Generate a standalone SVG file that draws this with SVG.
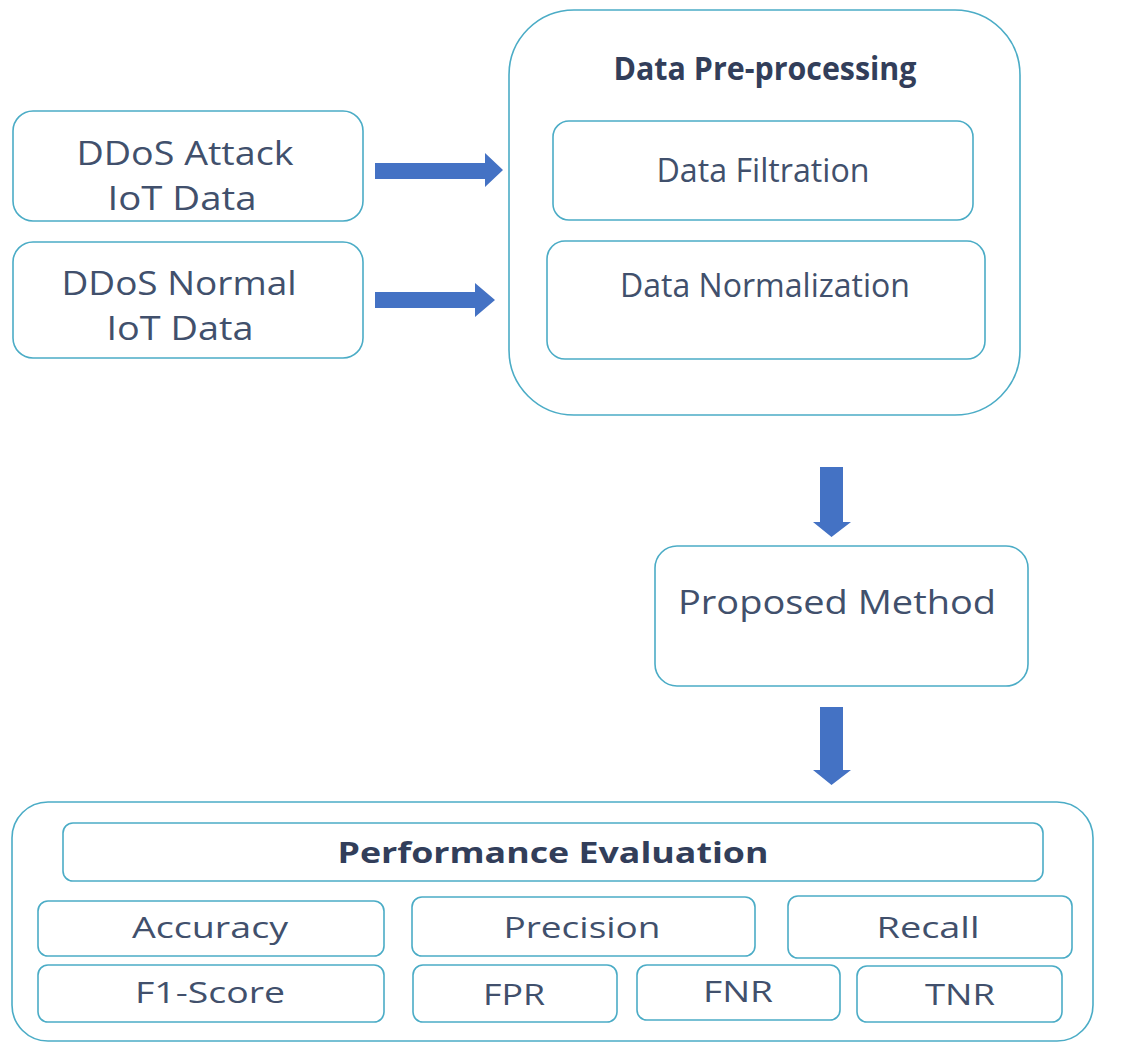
<svg xmlns="http://www.w3.org/2000/svg" width="1121" height="1046" viewBox="0 0 1121 1046">
  <style>
    .box { fill: #ffffff; stroke: #4bacc6; stroke-width: 1.6; }
    .lbl { font-family: "Open Sans", "Liberation Sans", sans-serif; fill: #41506c; text-anchor: middle; }
    .ttl { font-family: "Open Sans", "Liberation Sans", sans-serif; font-weight: bold; fill: #323e5a; text-anchor: middle; }
    .arrow { fill: #4472c4; }
  </style>
  <rect width="1121" height="1046" fill="#ffffff"/>

  <!-- input data sources -->
  <g id="attack-data">
    <rect class="box" x="13" y="111" width="350" height="110" rx="20"/>
    <text class="lbl" x="185" y="165" font-size="33" textLength="217" lengthAdjust="spacingAndGlyphs">DDoS Attack</text>
    <text class="lbl" x="182" y="210" font-size="33" textLength="149" lengthAdjust="spacingAndGlyphs">IoT Data</text>
  </g>
  <g id="normal-data">
    <rect class="box" x="13" y="242" width="350" height="116" rx="20"/>
    <text class="lbl" x="179" y="295" font-size="33" textLength="235" lengthAdjust="spacingAndGlyphs">DDoS Normal</text>
    <text class="lbl" x="180" y="340" font-size="33" textLength="147" lengthAdjust="spacingAndGlyphs">IoT Data</text>
  </g>

  <!-- pre-processing stage -->
  <g id="preprocessing">
    <rect class="box" x="509" y="10" width="511" height="405" rx="65"/>
    <text class="ttl" x="765" y="80" font-size="32" textLength="303" lengthAdjust="spacingAndGlyphs">Data Pre-processing</text>
  </g>
  <g id="filtration">
    <rect class="box" x="553" y="121" width="420" height="99" rx="16"/>
    <text class="lbl" x="763" y="182" font-size="32" textLength="213" lengthAdjust="spacingAndGlyphs">Data Filtration</text>
  </g>
  <g id="normalization">
    <rect class="box" x="547" y="241" width="438" height="118" rx="18"/>
    <text class="lbl" x="765" y="297" font-size="32" textLength="290" lengthAdjust="spacingAndGlyphs">Data Normalization</text>
  </g>

  <!-- model -->
  <g id="proposed-method">
    <rect class="box" x="655" y="546" width="373" height="140" rx="22"/>
    <text class="lbl" x="837" y="614" font-size="33" textLength="318" lengthAdjust="spacingAndGlyphs">Proposed Method</text>
  </g>

  <!-- evaluation panel -->
  <g id="evaluation">
    <rect class="box" x="12" y="802" width="1081" height="239" rx="36"/>
  </g>
  <g id="evaluation-title">
    <rect class="box" x="63" y="823" width="980" height="58" rx="10"/>
    <text class="ttl" x="553" y="863" font-size="29" textLength="431" lengthAdjust="spacingAndGlyphs">Performance Evaluation</text>
  </g>
  <g id="accuracy">
    <rect class="box" x="38" y="901" width="346" height="55" rx="10"/>
    <text class="lbl" x="210" y="938" font-size="30" textLength="156" lengthAdjust="spacingAndGlyphs">Accuracy</text>
  </g>
  <g id="precision">
    <rect class="box" x="412" y="897" width="343" height="59" rx="10"/>
    <text class="lbl" x="582" y="938" font-size="30" textLength="157" lengthAdjust="spacingAndGlyphs">Precision</text>
  </g>
  <g id="recall">
    <rect class="box" x="788" y="896" width="284" height="62" rx="10"/>
    <text class="lbl" x="928" y="938" font-size="30" textLength="103" lengthAdjust="spacingAndGlyphs">Recall</text>
  </g>
  <g id="f1-score">
    <rect class="box" x="38" y="965" width="346" height="57" rx="10"/>
    <text class="lbl" x="210" y="1003" font-size="30" textLength="150" lengthAdjust="spacingAndGlyphs">F1-Score</text>
  </g>
  <g id="fpr">
    <rect class="box" x="413" y="965" width="204" height="57" rx="10"/>
    <text class="lbl" x="514" y="1005" font-size="30" textLength="62" lengthAdjust="spacingAndGlyphs">FPR</text>
  </g>
  <g id="fnr">
    <rect class="box" x="637" y="965" width="203" height="55" rx="10"/>
    <text class="lbl" x="738" y="1002" font-size="30" textLength="70" lengthAdjust="spacingAndGlyphs">FNR</text>
  </g>
  <g id="tnr">
    <rect class="box" x="857" y="966" width="205" height="56" rx="10"/>
    <text class="lbl" x="960" y="1005" font-size="30" textLength="70" lengthAdjust="spacingAndGlyphs">TNR</text>
  </g>

  <!-- block arrows between stages -->
  <g id="connectors">
    <polygon class="arrow" points="375,163 485,163 485,153 503,170 485,187 485,179 375,179"/>
    <polygon class="arrow" points="375,292 475,292 475,283 495,300 475,317 475,308 375,308"/>
    <polygon class="arrow" points="820,467 843,467 843,522 851,522 831.5,537 813,522 820,522"/>
    <polygon class="arrow" points="820,707 843,707 843,770 851,770 831.5,785 813,770 820,770"/>
  </g>
</svg>
